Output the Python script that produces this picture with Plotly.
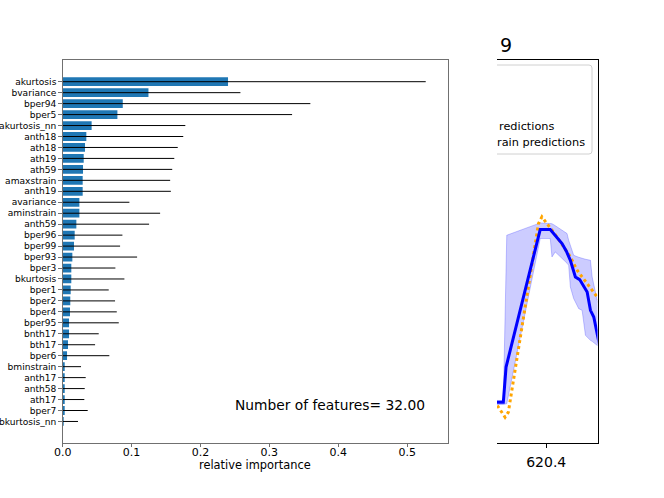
import plotly.graph_objects as go

# ---------------- data: feature importance ----------------
features = ["akurtosis", "bvariance", "bper94", "bper5", "akurtosis_nn", "anth18", "ath18",
            "ath19", "ath59", "amaxstrain", "anth19", "avariance", "aminstrain", "anth59",
            "bper96", "bper99", "bper93", "bper3", "bkurtosis", "bper1", "bper2", "bper4",
            "bper95", "bnth17", "bth17", "bper6", "bminstrain", "anth17", "anth58", "ath17",
            "bper7", "bkurtosis_nn"]
importance = [0.240, 0.1245, 0.0872, 0.0794, 0.042, 0.0343, 0.0324, 0.0305, 0.0295, 0.029,
              0.029, 0.0242, 0.0242, 0.0198, 0.0174, 0.0164, 0.014, 0.0125, 0.0125, 0.0116,
              0.011, 0.0106, 0.0092, 0.0092, 0.0077, 0.0063, 0.0029, 0.0029, 0.0029, 0.0024,
              0.0024, 0.001]
importance_std = [0.287, 0.1335, 0.2723, 0.2536, 0.136, 0.1407, 0.1346, 0.1315, 0.1295, 0.127,
                  0.128, 0.0726, 0.1172, 0.1056, 0.0693, 0.0669, 0.094, 0.064, 0.0771, 0.0552,
                  0.065, 0.0679, 0.0722, 0.0431, 0.0393, 0.0614, 0.0237, 0.0305, 0.0291, 0.029,
                  0.0339, 0.0212]
x_ticks = [0.0, 0.1, 0.2, 0.3, 0.4, 0.5]
n_features_label = "Number of features= 32.00"

# ---------------- data: right (partially hidden) panel ----------------
pred_x = [620.14, 620.1865, 620.2, 620.37, 620.42, 620.445, 620.4785, 620.5, 620.52, 620.545,
          620.5665, 620.6035, 620.62, 620.6365, 620.6535, 620.665]
pred_y = [0.1055, 0.1055, 0.1971, 0.5568, 0.5568, 0.5419, 0.5202, 0.5, 0.4764, 0.4327,
          0.4259, 0.3935, 0.3455, 0.3280, 0.2801, 0.2539]
obs_x = [620.14, 620.1615, 620.1785, 620.195, 620.2115, 620.3615, 620.3785, 620.4115, 620.44,
         620.47, 620.52, 620.5535, 620.6035, 620.6365, 620.6535, 620.67]
obs_y = [0.1099, 0.0924, 0.0793, 0.0662, 0.0793, 0.5725, 0.5898, 0.5681, 0.5471, 0.5243,
         0.4851, 0.4503, 0.4154, 0.3893, 0.3804, 0.3717]
band_x = [620.14, 620.1865, 620.2035, 620.37, 620.42, 620.4285, 620.445, 620.4535, 620.5035,
          620.5115, 620.52, 620.5365, 620.5615, 620.5785, 620.595, 620.62, 620.6285, 620.6535, 620.67]
band_hi = [0.1099, 0.1099, 0.5419, 0.5741, 0.5725, 0.5720, 0.5668, 0.5636, 0.5463, 0.5288,
           0.5157, 0.4895, 0.4843, 0.4809, 0.4791, 0.4764, 0.4327, 0.3717, 0.3508]
band_lo = [0.0995, 0.0995, 0.1013, 0.5332, 0.5332, 0.4851, 0.4982, 0.4948, 0.4686, 0.4634,
           0.4065, 0.3762, 0.3500, 0.3455, 0.2801, 0.2670, 0.2644, 0.2539, 0.2487]
right_tick = [620.4]
right_title = "9"
legend_lines = ["redictions", "rain predictions"]

W, H = 664, 498
FONT = "DejaVu Sans"


def px(x):
    return x / W


def py(y):
    return 1 - y / H


fig = go.Figure()

fig.add_trace(go.Bar(
    x=importance, y=features, orientation="h", width=0.8,
    marker=dict(color="#1f77b4", line=dict(width=0)),
    error_x=dict(type="data", array=importance_std, color="black", thickness=1, width=0),
    xaxis="x", yaxis="y", showlegend=False,
))

fig.add_trace(go.Scatter(
    x=band_x + band_x[::-1], y=band_hi + band_lo[::-1], fill="toself", mode="lines",
    fillcolor="rgba(0,0,255,0.2)", line=dict(color="rgba(0,0,255,0.22)", width=1),
    xaxis="x2", yaxis="y2", showlegend=False, hoverinfo="skip",
))
fig.add_trace(go.Scatter(
    x=obs_x, y=obs_y, mode="lines", line=dict(color="orange", width=3, dash="dot"),
    xaxis="x2", yaxis="y2", showlegend=False,
))
fig.add_trace(go.Scatter(
    x=pred_x, y=pred_y, mode="lines", line=dict(color="blue", width=3),
    xaxis="x2", yaxis="y2", showlegend=False,
))

axis_gray = "#707070"
ydom = [py(442.5), py(60)]

fig.update_layout(
    width=W, height=H,
    margin=dict(l=0, r=0, t=0, b=0, autoexpand=False),
    paper_bgcolor="white", plot_bgcolor="white",
    font=dict(family=FONT, color="black"),
    showlegend=False,
    xaxis=dict(
        domain=[px(62.7), px(447.5)], anchor="y", range=[0, 0.5586], automargin=False,
        tickvals=x_ticks, tickformat=".1f", ticks="outside", ticklen=3.5, tickcolor=axis_gray,
        ticklabelstandoff=-4,
        tickfont=dict(size=11, family=FONT), showgrid=False, zeroline=False,
        showline=True, mirror=True, linecolor=axis_gray, linewidth=1,
    ),
    yaxis=dict(
        domain=ydom, anchor="x", type="category", automargin=False,
        categoryorder="array", categoryarray=features, range=[32.92, -1.98],
        tickmode="array", tickvals=features, ticktext=features,
        ticks="outside", ticklen=3.5, tickcolor=axis_gray,
        tickfont=dict(size=9.1, family=FONT), showgrid=False, zeroline=False,
        showline=True, mirror=True, linecolor=axis_gray, linewidth=1,
    ),
    xaxis2=dict(
        domain=[px(497), px(597.5)], anchor="y2", range=[620.155, 620.655], automargin=False,
        tickvals=right_tick, ticktext=[f"{v:.1f}" for v in right_tick],
        ticks="outside", ticklen=4, tickcolor="black", tickfont=dict(size=14, family=FONT),
        ticklabelstandoff=3,
        showgrid=False, zeroline=False, showline=True, mirror=True,
        linecolor="black", linewidth=1.3,
    ),
    yaxis2=dict(
        domain=ydom, anchor="x2", range=[0, 1], side="right", automargin=False,
        showticklabels=False, ticks="", showgrid=False, zeroline=False,
        showline=True, linecolor="black", linewidth=1.3,
    ),
)

# legend frame of the right panel (its left part is hidden)
x0, x1, y0, y1, r = 497, 592, 65, 154, 3
path = (f"M {px(x0)} {py(y0)} L {px(x1 - r)} {py(y0)} "
        f"Q {px(x1)} {py(y0)} {px(x1)} {py(y0 + r)} "
        f"L {px(x1)} {py(y1 - r)} Q {px(x1)} {py(y1)} {px(x1 - r)} {py(y1)} "
        f"L {px(x0)} {py(y1)}")
fig.add_shape(type="path", path=path, xref="paper", yref="paper",
              line=dict(color="#d0d0d0", width=1), fillcolor="rgba(255,255,255,0.8)",
              layer="above")

annotations = [
    dict(text=n_features_label, x=px(329.5), y=py(405), xanchor="center", yanchor="middle",
         font=dict(size=13.8, family=FONT, color="black")),
    dict(text="relative importance", x=px(255), y=py(465), xanchor="center", yanchor="middle",
         font=dict(size=11.4, family=FONT, color="black")),
    dict(text=right_title, x=px(497.5), y=py(44.5), xanchor="left", yanchor="middle",
         font=dict(size=19, family=FONT, color="black")),
    dict(text=legend_lines[0], x=px(556.5), y=py(126), xanchor="right", yanchor="middle",
         font=dict(size=11.3, family=FONT, color="black")),
    dict(text=legend_lines[1], x=px(587), y=py(142.5), xanchor="right", yanchor="middle",
         font=dict(size=11.3, family=FONT, color="black")),
]
for a in annotations:
    a.update(xref="paper", yref="paper", showarrow=False)
fig.update_layout(annotations=annotations)

fig.write_html("out.html", config={"displayModeBar": False})

# remove the browser's default page margin so the figure sits at the window's corner
with open("out.html", encoding="utf-8") as f:
    html = f.read()
html = html.replace("<head>", "<head><style>html,body{margin:0;padding:0;overflow:hidden}</style>", 1)
with open("out.html", "w", encoding="utf-8") as f:
    f.write(html)
